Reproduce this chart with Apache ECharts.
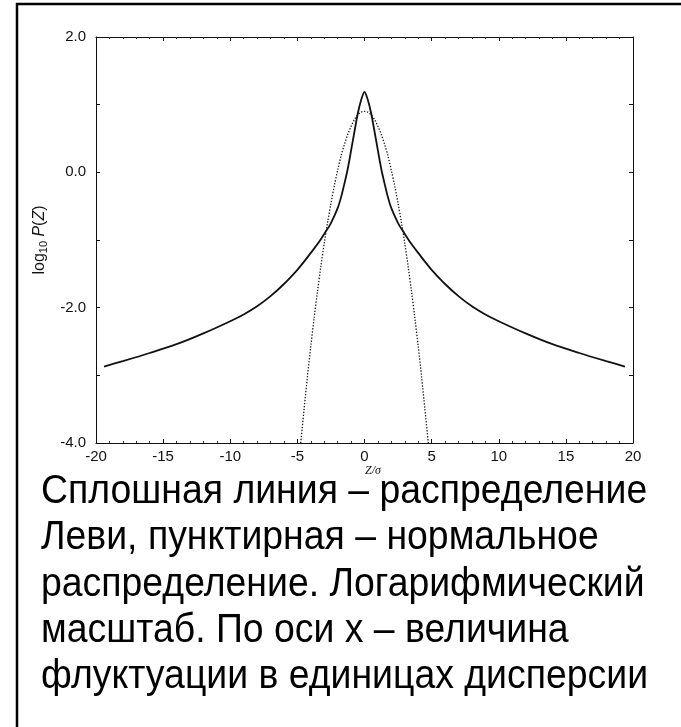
<!DOCTYPE html>
<html>
<head>
<meta charset="utf-8">
<script src="https://cdn.jsdelivr.net/npm/echarts@6/dist/echarts.min.js"></script>
<style>
  html, body { margin: 0; padding: 0; background: #fff; }
  #chart { width: 681px; height: 727px; }
</style>
</head>
<body>
<div id="chart"></div>
<script>
// Lévy distribution (solid): Z/σ and log10 P(Z)
const levyZ = [-19.4, -18, -16, -14, -12, -10, -9, -8, -7, -6, -5, -4.5, -4, -3.5, -3, -2.5, -2, -1.75, -1.5, -1.25, -1, -0.75, -0.5, -0.25, 0,
               0.25, 0.5, 0.75, 1, 1.25, 1.5, 1.75, 2, 2.5, 3, 3.5, 4, 4.5, 5, 6, 7, 8, 9, 10, 12, 14, 16, 18, 19.4];
const levyP = [-2.87, -2.79, -2.67, -2.54, -2.38, -2.2, -2.1, -1.98, -1.83, -1.65, -1.44, -1.32, -1.19, -1.06, -0.91, -0.75, -0.53, -0.37, -0.17, 0.05, 0.32, 0.6, 0.87, 1.07, 1.19,
               1.07, 0.87, 0.6, 0.32, 0.05, -0.17, -0.37, -0.53, -0.75, -0.91, -1.06, -1.19, -1.32, -1.44, -1.65, -1.83, -1.98, -2.1, -2.2, -2.38, -2.54, -2.67, -2.79, -2.87];

// Normal distribution (dotted)
const normZ = [-4.75, -4.5, -4.25, -4, -3.75, -3.5, -3.25, -3, -2.75, -2.5, -2.25, -2, -1.75, -1.5, -1.25, -1, -0.75, -0.5, -0.25, 0,
               0.25, 0.5, 0.75, 1, 1.25, 1.5, 1.75, 2, 2.25, 2.5, 2.75, 3, 3.25, 3.5, 3.75, 4, 4.25, 4.5, 4.75];
const normP = [-4.0, -3.5, -3.02, -2.57, -2.15, -1.76, -1.39, -1.05, -0.74, -0.46, -0.2, 0.03, 0.24, 0.41, 0.56, 0.68, 0.78, 0.85, 0.89, 0.9,
               0.89, 0.85, 0.78, 0.68, 0.56, 0.41, 0.24, 0.03, -0.2, -0.46, -0.74, -1.05, -1.39, -1.76, -2.15, -2.57, -3.02, -3.5, -4.0];

const yTickLabels = { '2': '2.0', '0': '0.0', '-2': '-2.0', '-4': '-4.0' };
const xAxisTitle = 'Z/σ';
const captionLines = [
  'Сплошная линия – распределение',
  'Леви, пунктирная – нормальное',
  'распределение. Логарифмический',
  'масштаб. По оси x – величина',
  'флуктуации в единицах дисперсии'
];

const levyData = levyZ.map((z, i) => [z, levyP[i]]);
const normData = normZ.map((z, i) => [z, normP[i]]);

const ink = '#111';
const fontFamily = 'Liberation Sans, Arial, Helvetica, sans-serif';

const axisCommon = {
  type: 'value',
  axisLine: { show: true, onZero: false, lineStyle: { color: ink, width: 1 } },
  splitLine: { show: false },
  axisTick: { show: true, inside: true, length: 4, lineStyle: { color: ink } },
  minorTick: { show: true, splitNumber: 5, length: 2, lineStyle: { color: '#333' } }
};

const chart = echarts.init(document.getElementById('chart'), null, { renderer: 'canvas' });

chart.setOption({
  animation: false,
  backgroundColor: '#fff',
  grid: { left: 96, right: 48, top: 37, bottom: 284, containLabel: false },
  xAxis: [
    Object.assign({}, axisCommon, {
      position: 'bottom', min: -20, max: 20, interval: 5,
      axisLabel: { show: true, color: ink, fontFamily, fontSize: 15, margin: 6 }
    }),
    Object.assign({}, axisCommon, {
      position: 'top', min: -20, max: 20, interval: 5,
      axisLabel: { show: false }
    })
  ],
  yAxis: [
    Object.assign({}, axisCommon, {
      position: 'left', min: -4, max: 2, interval: 1,
      minorTick: { show: false },
      axisLabel: {
        show: true, color: ink, fontFamily, fontSize: 15, margin: 10,
        formatter: v => yTickLabels[String(v)] || ''
      },
      name: '{a|log}{s|10} {i|P}{a|(}{i|Z}{a|)}',
      nameLocation: 'middle',
      nameRotate: 90,
      nameGap: 36,
      nameTextStyle: {
        rich: {
          a: { fontFamily, fontSize: 16, color: ink },
          i: { fontFamily, fontSize: 16, fontStyle: 'italic', color: ink },
          s: { fontFamily, fontSize: 11, color: ink, padding: [8, 1, 0, 0] }
        }
      }
    }),
    Object.assign({}, axisCommon, {
      position: 'right', min: -4, max: 2, interval: 1,
      minorTick: { show: false },
      axisLabel: { show: false }
    })
  ],
  series: [
    {
      name: 'Леви',
      type: 'line',
      data: levyData,
      smooth: 0.3,
      showSymbol: false,
      lineStyle: { color: ink, width: 1.8 },
      xAxisIndex: 0, yAxisIndex: 0
    },
    {
      name: 'нормальное',
      type: 'line',
      data: normData,
      smooth: 0.3,
      showSymbol: false,
      lineStyle: { color: ink, width: 1.3, type: [1.3, 1.7] },
      xAxisIndex: 0, yAxisIndex: 0
    }
  ],
  graphic: [
    {
      type: 'rect',
      shape: { x: 17, y: 4, width: 700, height: 760 },
      style: { fill: 'none', stroke: '#000', lineWidth: 2.5 },
      silent: true
    },
    {
      type: 'text',
      x: 373, y: 471,
      style: {
        text: xAxisTitle, align: 'center', verticalAlign: 'middle',
        font: 'italic 12px "Liberation Serif", "Times New Roman", serif', fill: ink
      }
    }
  ].concat(captionLines.map((line, i) => ({
    type: 'text',
    x: 41, y: 492 + i * 46.3,
    scaleX: 0.935,
    style: {
      text: line, align: 'left', verticalAlign: 'middle',
      font: '40px "Liberation Sans", Arial, sans-serif', fill: '#000'
    }
  })))
});
</script>
</body>
</html>
